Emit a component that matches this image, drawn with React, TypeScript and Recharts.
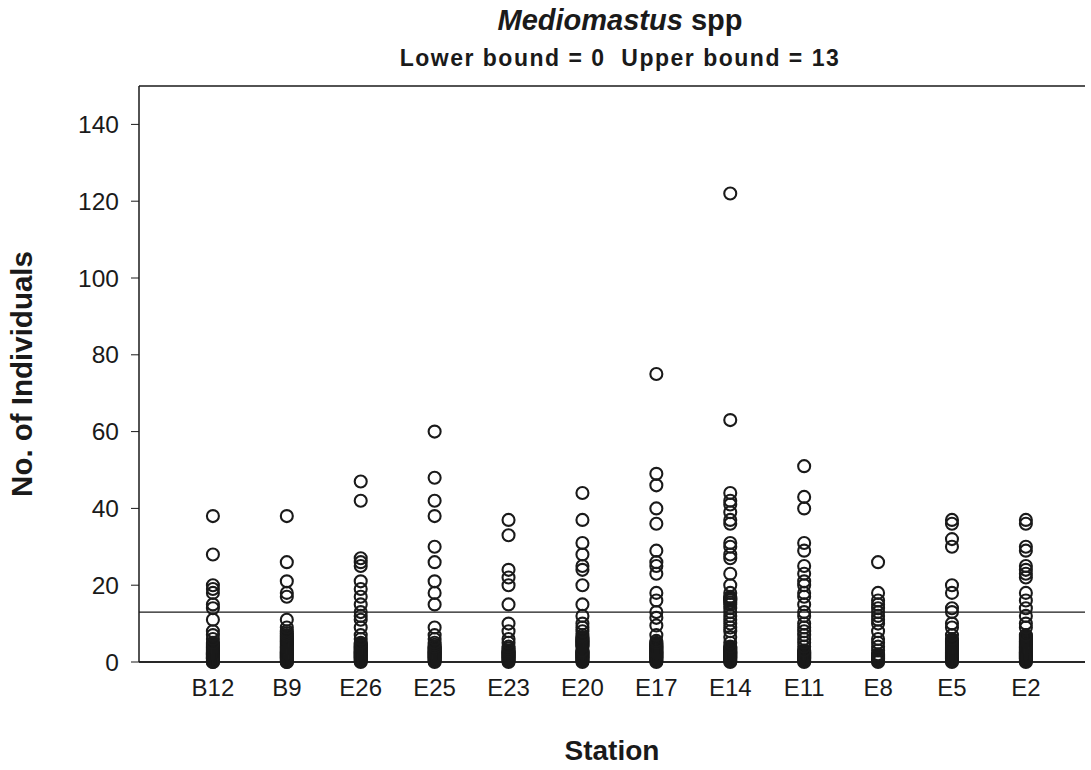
import { ScatterChart, Scatter, XAxis, YAxis, ReferenceLine } from 'recharts';

// Station order along the x-axis
const stations = ['B12', 'B9', 'E26', 'E25', 'E23', 'E20', 'E17', 'E14', 'E11', 'E8', 'E5', 'E2'];

// Counts per station (the many low values overlap into a solid column)
const b12 = [0, 0, 0.25, 0.5, 0.75, 1, 1, 1.25, 1.5, 1.75, 2, 2, 2.25, 2.5, 2.75, 3, 3.25, 3.5, 3.75, 4, 4.25, 4.5, 4.75, 5, 6, 7, 8, 11, 14, 15, 18, 19, 20, 28, 38];
const b9 = [0, 0, 0.25, 0.5, 0.75, 1, 1.25, 1.5, 1.75, 2, 2.25, 2.5, 2.75, 3, 3.25, 3.5, 3.75, 4, 4.25, 4.5, 4.75, 5, 5.25, 5.5, 5.75, 6, 6.25, 6.5, 6.75, 7, 7.5, 8, 9, 11, 17, 18, 21, 26, 38];
const e26 = [0, 0.25, 0.5, 0.75, 1, 1.25, 1.5, 1.75, 2, 2.25, 2.5, 2.75, 3, 3.25, 3.5, 3.75, 4, 4.25, 4.5, 4.75, 5, 6, 7, 9, 11, 12, 13, 15, 17, 19, 21, 25, 26, 27, 42, 47];
const e25 = [0, 0.25, 0.5, 0.75, 1, 1.25, 1.5, 1.75, 2, 2.25, 2.5, 2.75, 3, 3.25, 3.5, 3.75, 4, 4.5, 5, 6, 7, 9, 15, 18, 21, 26, 30, 38, 42, 48, 60];
const e23 = [0, 0.25, 0.5, 0.75, 1, 1.25, 1.5, 1.75, 2, 2.25, 2.5, 2.75, 3, 3.5, 4, 5, 6, 8, 10, 15, 20, 22, 24, 33, 37];
const e20 = [0, 0.25, 0.5, 0.75, 1, 1.25, 1.5, 1.75, 2, 2.25, 2.5, 2.75, 3, 4, 4.25, 4.5, 4.75, 5, 5.25, 5.5, 5.75, 6, 6.25, 6.5, 7, 8, 9, 10, 12, 15, 20, 24, 25, 28, 31, 37, 44];
const e17 = [0, 0.25, 0.5, 0.75, 1, 1.25, 1.5, 1.75, 2, 2.25, 2.5, 2.75, 3, 3.25, 3.5, 3.75, 4, 4.25, 4.5, 4.75, 5, 5.5, 7, 9.5, 11.5, 13, 16, 18, 23, 25, 26, 29, 36, 40, 46, 49, 75];
const e14 = [0, 0.25, 0.5, 0.75, 1, 1.25, 1.5, 1.75, 2, 2.25, 2.5, 2.75, 3, 3.25, 3.5, 3.75, 4, 5, 6.5, 8, 9, 10, 11, 12, 13, 14, 15, 15.5, 16, 16.25, 16.5, 16.75, 17, 18, 20, 23, 27, 28, 30, 31, 36, 37, 39, 41, 42, 44, 63, 122];
const e11 = [0, 0.25, 0.5, 0.75, 1, 1.25, 1.5, 1.75, 2, 2.25, 2.5, 2.75, 3, 4, 5, 6, 7, 8, 9, 10, 12, 13, 15, 17, 18, 20, 21, 23, 25, 29, 31, 40, 43, 51];
const e8 = [0, 0.25, 0.5, 0.75, 1, 1.25, 1.5, 1.75, 2, 3, 4, 5, 6, 8, 10, 11, 12, 13, 14, 15, 16, 18, 26];
const e5 = [0, 0.25, 0.5, 0.75, 1, 1.25, 1.5, 1.75, 2, 2.25, 2.5, 2.75, 3, 3.25, 3.5, 3.75, 4, 4.25, 4.5, 4.75, 5, 5.25, 5.5, 5.75, 6, 7, 9, 10, 13, 14, 18, 20, 30, 32, 36, 37];
const e2 = [0, 0.25, 0.5, 0.75, 1, 1.25, 1.5, 1.75, 2, 2.25, 2.5, 2.75, 3, 3.25, 3.5, 3.75, 4, 4.25, 4.5, 4.75, 5, 5.25, 5.5, 5.75, 6, 6.25, 6.5, 6.75, 7, 9, 10, 12, 14, 16, 18, 22, 23, 24, 25, 29, 30, 36, 37];

const stationValues = [b12, b9, e26, e25, e23, e20, e17, e14, e11, e8, e5, e2];

const yTicks = [0, 20, 40, 60, 80, 100, 120, 140];
const lowerBound = 0;
const upperBound = 13;

// flatten into {x, y} points, x = station position 1..12
const points = stationValues.flatMap((vals, i) => vals.map((v) => ({ x: i + 1, y: v })));

const ink = '#1a1a1a';
const font = 'Arial, "Liberation Sans", Helvetica, sans-serif';

const OpenCircle = (props: any) => {
  const { cx, cy } = props;
  return <circle cx={cx} cy={cy} r={6} fill="none" stroke={ink} strokeWidth={2.1} />;
};

export default function App() {
  return (
    <div style={{ position: 'absolute', left: 0, top: 0, width: 1091, height: 770, background: '#fff', fontFamily: font }}>
      <div style={{ position: 'absolute', left: 147, width: 946, top: 4, textAlign: 'center', fontSize: 29, fontWeight: 'bold', color: ink }}>
        <i>Mediomastus</i> spp
      </div>
      <div style={{ position: 'absolute', left: 147, width: 946, top: 45, textAlign: 'center', fontSize: 23, fontWeight: 'bold', letterSpacing: 1.5, color: ink }}>
        Lower bound = {lowerBound}&nbsp;&nbsp;Upper bound = {upperBound}
      </div>
      <ScatterChart width={1091} height={770} margin={{ top: 86, right: 6, bottom: 0, left: 0 }}>
        <XAxis
          type="number"
          dataKey="x"
          domain={[0, 12.8]}
          ticks={[1, 2, 3, 4, 5, 6, 7, 8, 9, 10, 11, 12]}
          tickFormatter={(i: number) => stations[i - 1]}
          height={108}
          tickSize={6}
          tickMargin={11}
          axisLine={{ stroke: ink, strokeWidth: 1.5 }}
          tickLine={{ stroke: ink }}
          tick={{ fill: ink, fontSize: 24, fontFamily: font }}
          label={{ value: 'Station', position: 'insideBottom', offset: 10, fill: ink, fontSize: 28, fontWeight: 'bold', fontFamily: font }}
        />
        <YAxis
          type="number"
          dataKey="y"
          domain={[0, 150]}
          ticks={yTicks}
          width={139}
          tickSize={8}
          tickMargin={12}
          axisLine={{ stroke: ink, strokeWidth: 1.5 }}
          tickLine={{ stroke: ink }}
          tick={{ fill: ink, fontSize: 24.5, fontFamily: font }}
          label={{ value: 'No. of Individuals', angle: -90, position: 'insideLeft', offset: 22, fill: ink, fontSize: 29.5, fontWeight: 'bold', fontFamily: font, style: { textAnchor: 'middle' } }}
        />
        <ReferenceLine y={150} stroke={ink} strokeWidth={1.5} />
        <ReferenceLine y={upperBound} stroke={ink} strokeWidth={1.2} />
        <ReferenceLine y={lowerBound} stroke={ink} strokeWidth={1.5} />
        <Scatter data={points} shape={OpenCircle} isAnimationActive={false} />
      </ScatterChart>
    </div>
  );
}
